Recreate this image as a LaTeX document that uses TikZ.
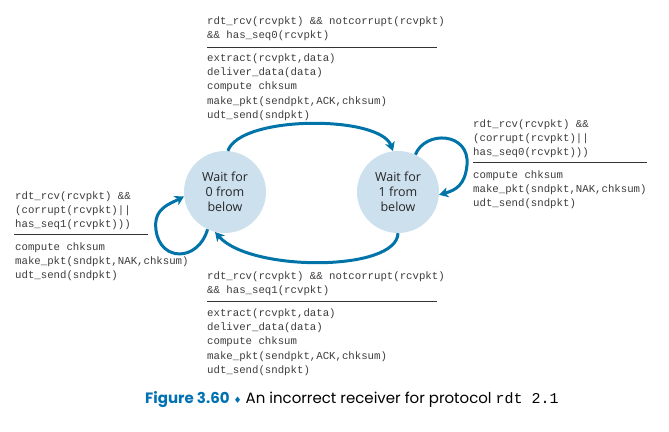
\documentclass[tikz,border=0pt]{standalone}
\usepackage{fontspec}
\usetikzlibrary{arrows.meta}
\setmainfont{Open Sans}
\newfontfamily\codefont{Liberation Mono}
\newfontfamily\capfont{Poppins}
\newfontfamily\symfont{DejaVu Sans}
\definecolor{arrowblue}{RGB}{0,116,168}
\definecolor{statefill}{RGB}{205,224,238}
\definecolor{codegray}{RGB}{60,60,60}
\definecolor{capblue}{RGB}{0,114,180}

\tikzset{
  state/.style={circle, fill=statefill, minimum size=82pt, inner sep=0pt,
    align=center, text=black!85, font=\fontsize{12.5}{15}\selectfont},
  code/.style={inner sep=0pt, anchor=north west, align=left, text=codegray,
    font=\fontsize{10.7}{14.2}\selectfont\codefont},
  trans/.style={draw=arrowblue, line width=3pt,
    -{Stealth[length=9pt,width=10pt,inset=2.5pt]}},
  sep/.style={draw=black!80, line width=0.9pt}
}

\begin{document}
\begin{tikzpicture}[x=1pt, y=-1pt]
	\useasboundingbox (0,0) rectangle (669,431);

	% states
	\node[state] (s0) at (225,192) {Wait for\\0 from\\below};
	\node[state] (s1) at (398,192) {Wait for\\1 from\\below};

	% transitions
	\draw[trans] (s0.86) .. controls (240,115) and (380,115) .. (s1.97);
	\draw[trans] (s1.-90) .. controls (397,272) and (250,272) .. (s0.-104);
	\draw[trans] (s0.245) .. controls (198,262) and (160,262) .. (156,230)
		.. controls (153,208) and (170,204) .. (s0.186);
	\draw[trans] (s1.65) .. controls (425,130) and (470,132) .. (467,165)
		.. controls (465,185) and (456,190) .. (s1.-4);

	% 0 -> 1
	\node[code] (cond01) at (207,16.5) {rdt\_rcv(rcvpkt) \&\& notcorrupt(rcvpkt)\\\&\& has\_seq0(rcvpkt)};
	\draw[sep] (207,47) -- (437,47);
	\node[code] (act01) at (207,53.5) {extract(rcvpkt,data)\\deliver\_data(data)\\compute chksum\\make\_pkt(sendpkt,ACK,chksum)\\udt\_send(sndpkt)};

	% 1 -> 0
	\node[code] (cond10) at (207,271.5) {rdt\_rcv(rcvpkt) \&\& notcorrupt(rcvpkt)\\\&\& has\_seq1(rcvpkt)};
	\draw[sep] (207,301) -- (437,301);
	\node[code] (act10) at (207,308.5) {extract(rcvpkt,data)\\deliver\_data(data)\\compute chksum\\make\_pkt(sendpkt,ACK,chksum)\\udt\_send(sndpkt)};

	% 0 -> 0
	\node[code] (cond00) at (15,191.5) {rdt\_rcv(rcvpkt) \&\&\\(corrupt(rcvpkt)||\\has\_seq1(rcvpkt)))};
	\draw[sep] (14,234) -- (148,234);
	\node[code] (act00) at (15,242.5) {compute chksum\\make\_pkt(sndpkt,NAK,chksum)\\udt\_send(sndpkt)};

	% 1 -> 1
	\node[code] (cond11) at (473,119.5) {rdt\_rcv(rcvpkt) \&\&\\(corrupt(rcvpkt)||\\has\_seq0(rcvpkt)))};
	\draw[sep] (473,162) -- (647,162);
	\node[code] (act11) at (473,170.5) {compute chksum\\make\_pkt(sndpkt,NAK,chksum)\\udt\_send(sndpkt)};

	% caption
	\node[anchor=west, inner sep=0pt, font=\capfont\fontsize{15}{18}\selectfont] (caption) at (145,400)
		{{\bfseries\color{capblue}Figure 3.60} {\color{capblue}\symfont\fontsize{9}{9}\selectfont ♦} An incorrect receiver for protocol {\codefont rdt 2.1}};
\end{tikzpicture}
\end{document}
